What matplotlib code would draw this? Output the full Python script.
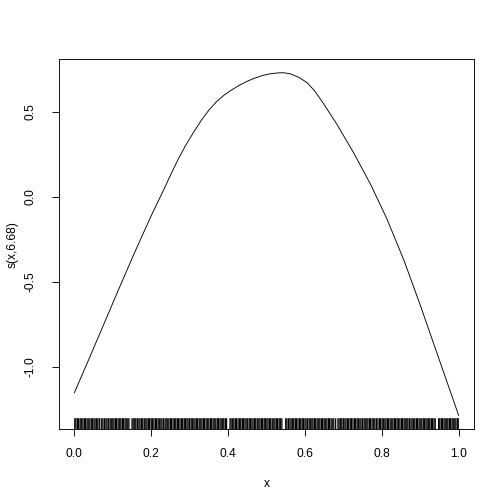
import matplotlib
matplotlib.use('Agg')
import matplotlib.pyplot as plt

# smooth term s(x, 6.68)
curve_x = [0.0, 0.04, 0.08, 0.12, 0.16, 0.20, 0.234, 0.25, 0.27, 0.29,
           0.31, 0.33, 0.35, 0.37, 0.39, 0.41, 0.43, 0.45, 0.47, 0.49,
           0.51, 0.53, 0.545, 0.563, 0.585, 0.606, 0.625, 0.645, 0.684, 0.727,
           0.771, 0.814, 0.858, 0.901, 0.945, 1.0]
curve_y = [-1.151, -0.942, -0.730, -0.518, -0.310, -0.110, 0.050, 0.128, 0.222, 0.305,
           0.380, 0.450, 0.511, 0.561, 0.600, 0.631, 0.658, 0.681, 0.700, 0.715,
           0.725, 0.730, 0.731, 0.724, 0.703, 0.672, 0.625, 0.561, 0.425, 0.259,
           0.074, -0.132, -0.374, -0.641, -0.927, -1.284]

# covariate values shown in the rug
rug_x = [
    0.001, 0.004, 0.008, 0.011, 0.015, 0.018, 0.022, 0.026, 0.029, 0.033, 0.036, 0.040,
    0.044, 0.047, 0.051, 0.054, 0.058, 0.061, 0.065, 0.070, 0.074, 0.078, 0.082, 0.085,
    0.089, 0.093, 0.096,
    0.100, 0.103, 0.107, 0.110, 0.114, 0.118, 0.121, 0.125, 0.128, 0.132, 0.135, 0.139,
    0.142, 0.150, 0.153, 0.157, 0.160, 0.164, 0.168, 0.171, 0.175, 0.178, 0.182, 0.186,
    0.189, 0.193, 0.196,
    0.200, 0.203, 0.207, 0.211, 0.214, 0.218, 0.221, 0.225, 0.228, 0.232, 0.236, 0.239,
    0.243, 0.246, 0.250, 0.253, 0.257, 0.261, 0.264, 0.268, 0.271, 0.275, 0.279, 0.282,
    0.286, 0.289, 0.293, 0.296,
    0.300, 0.304, 0.307, 0.311, 0.314, 0.318, 0.321, 0.325, 0.329, 0.332, 0.336, 0.339,
    0.343, 0.347, 0.350, 0.354, 0.357, 0.361, 0.364, 0.368, 0.372, 0.375, 0.379, 0.382,
    0.386, 0.389, 0.393, 0.396,
    0.405, 0.408, 0.412, 0.415, 0.419, 0.422, 0.426, 0.430, 0.433, 0.437, 0.440, 0.444,
    0.447, 0.451, 0.455, 0.458, 0.462, 0.465, 0.469, 0.472, 0.476, 0.480, 0.483, 0.487,
    0.490, 0.494, 0.497,
    0.501, 0.504, 0.508, 0.511, 0.515, 0.519, 0.522, 0.526, 0.529, 0.533, 0.536, 0.540,
    0.550, 0.553, 0.557, 0.561, 0.564, 0.568, 0.571, 0.575, 0.578, 0.582, 0.586, 0.589,
    0.593, 0.596,
    0.600, 0.603, 0.607, 0.611, 0.614, 0.618, 0.621, 0.625, 0.628, 0.632, 0.636, 0.639,
    0.643, 0.646, 0.650, 0.653, 0.657, 0.661, 0.664, 0.668, 0.671, 0.675, 0.680, 0.686,
    0.689, 0.693, 0.696,
    0.700, 0.704, 0.707, 0.711, 0.714, 0.718, 0.721, 0.725, 0.729, 0.732, 0.736, 0.739,
    0.743, 0.746, 0.750, 0.754, 0.757, 0.761, 0.764, 0.768, 0.771, 0.775, 0.779, 0.782,
    0.786, 0.790, 0.794, 0.797,
    0.801, 0.804, 0.808, 0.811, 0.815, 0.818, 0.822, 0.826, 0.829, 0.833, 0.836, 0.840,
    0.843, 0.847, 0.851, 0.854, 0.858, 0.861, 0.865, 0.868, 0.872, 0.876, 0.879, 0.883,
    0.886, 0.890, 0.893, 0.897,
    0.900, 0.904, 0.908, 0.911, 0.915, 0.918, 0.922, 0.925, 0.929, 0.932, 0.936, 0.939,
    0.948, 0.951, 0.955, 0.958, 0.962, 0.965, 0.969, 0.972, 0.976, 0.979, 0.983, 0.986,
    0.990, 0.993, 0.997, 0.999,
]

x_ticks = [0.0, 0.2, 0.4, 0.6, 0.8, 1.0]
y_ticks = [-1.0, -0.5, 0.0, 0.5]

plt.rcParams['font.family'] = ['Liberation Sans', 'DejaVu Sans']
plt.rcParams['font.size'] = 12

fig = plt.figure(figsize=(7, 7), dpi=72)
ax = fig.add_axes([59 / 504, 1 - 429.3 / 504, 415 / 504, 370 / 504])

ax.plot(curve_x, curve_y, color='black', linewidth=0.9)

# rug along the bottom, 3% of the plot height
ax.vlines(rug_x, 0, 0.03, transform=ax.get_xaxis_transform(),
          color='black', linewidth=1.25, snap=False, antialiased=True)

ax.set_xlim(-0.04, 1.04)
ax.set_ylim(-1.366, 0.81)

ax.set_xticks(x_ticks)
ax.set_xticklabels([f'{v:.1f}' for v in x_ticks])
ax.set_yticks(y_ticks)
ax.set_yticklabels([f'{v:.1f}' for v in y_ticks], rotation=90, va='center')

ax.tick_params(axis='x', length=7, width=0.9, pad=12)
ax.tick_params(axis='y', length=7, width=0.9, pad=15)
for sp in ax.spines.values():
    sp.set_linewidth(0.9)

ax.set_xlabel('x', labelpad=18)
ax.set_ylabel('s(x,6.68)', labelpad=6)

fig.savefig('out.png', dpi=72)
